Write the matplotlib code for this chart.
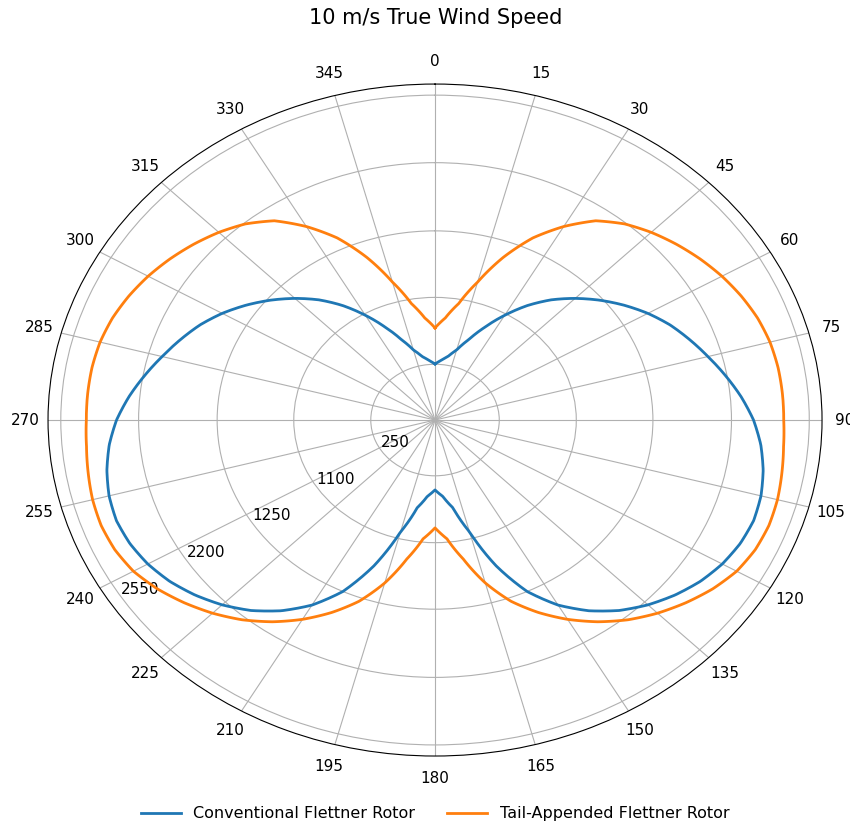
import numpy as np
import matplotlib
matplotlib.use("Agg")
from matplotlib import pyplot as plt

# apparent wind angle (deg), one half of the polar; the other half mirrors it
angles_half = list(range(0, 181, 5))

conventional = [
    0.167, 0.178, 0.192, 0.216, 0.255, 0.305, 0.360, 0.416, 0.467, 0.512,
    0.555, 0.596, 0.635, 0.670, 0.700, 0.730, 0.762, 0.794, 0.823, 0.845,
    0.861, 0.872, 0.876, 0.870, 0.857, 0.837, 0.810, 0.778, 0.740, 0.693,
    0.636, 0.563, 0.462, 0.345, 0.265, 0.228, 0.208,
]
tail_appended = [
    0.274, 0.305, 0.352, 0.425, 0.515, 0.598, 0.665, 0.724, 0.762, 0.790,
    0.814, 0.836, 0.856, 0.873, 0.887, 0.896, 0.900, 0.901, 0.901, 0.904,
    0.910, 0.916, 0.918, 0.913, 0.900, 0.876, 0.846, 0.813, 0.776, 0.733,
    0.685, 0.632, 0.574, 0.502, 0.420, 0.355, 0.321,
]

r_ticks = [0.166, 0.365, 0.563, 0.766, 0.967]
r_tick_labels = ["250", "1100", "1250", "2200", "2550"]
theta_ticks = list(range(0, 360, 15))


def full_circle(values):
    # mirror 0..180 onto 180..360 and close the loop
    vals = np.asarray(values)
    return np.concatenate([vals, vals[-2::-1]])


theta = np.deg2rad(np.concatenate([angles_half, 360 - np.array(angles_half[-2::-1])]))

fig = plt.figure(figsize=(8.5, 8.24), dpi=100)
ax = fig.add_axes([0.0565, 0.0825, 0.9106, 0.8155], projection="polar")
ax.set_aspect("auto")
ax.set_theta_zero_location("N")
ax.set_theta_direction(-1)

lines = []
lines += ax.plot(theta, full_circle(conventional), color="#1f77b4", lw=2.0,
                 label="Conventional Flettner Rotor")
lines += ax.plot(theta, full_circle(tail_appended), color="#ff7f0e", lw=2.0,
                 label="Tail-Appended Flettner Rotor")
# let the polar transform draw each segment as a curve in (theta, r)
for line in lines:
    line.get_path()._interpolation_steps = 30

ax.set_rlim(0, 1)
ax.set_rticks(r_ticks)
ax.set_yticklabels(r_tick_labels)
ax.set_rlabel_position(237)
ax.set_thetagrids(theta_ticks, labels=[str(t) for t in theta_ticks])
ax.tick_params(axis="x", labelsize=11, pad=6)
ax.tick_params(axis="y", labelsize=11)

fig.text(0.512, 1 - 18 / 824, "10 m/s True Wind Speed", ha="center", va="center",
         fontsize=15)
fig.legend(loc="lower center", ncol=2, frameon=False, fontsize=11.5,
           bbox_to_anchor=(0.512, -0.014), columnspacing=2.0, handlelength=2.5)

fig.savefig("out.png", dpi=100)
